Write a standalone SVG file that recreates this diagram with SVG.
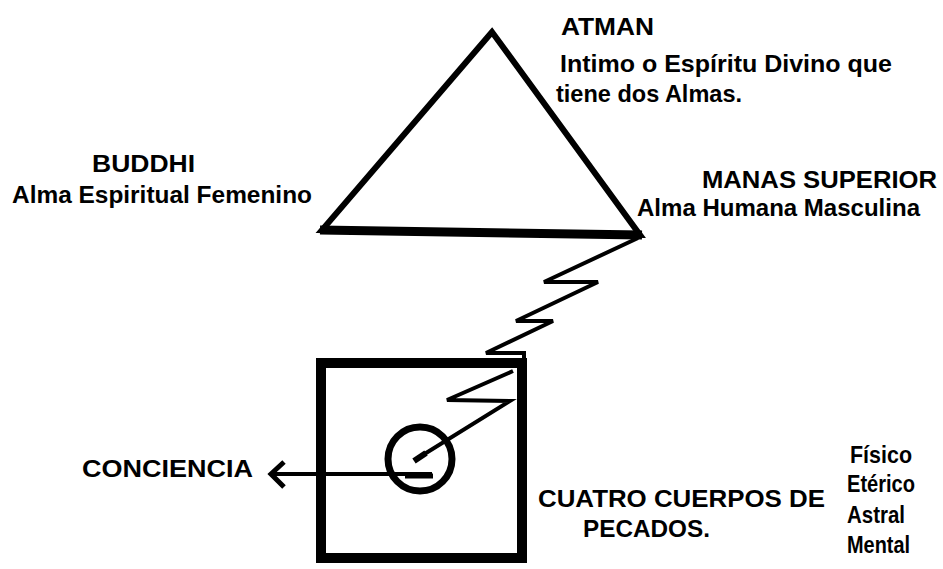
<svg xmlns="http://www.w3.org/2000/svg" width="943" height="569" viewBox="0 0 943 569">
<style>
.t{font-family:"Liberation Sans",Arial,sans-serif;font-weight:bold;font-size:24px;fill:#000}
.ln{fill:none;stroke:#000;stroke-linejoin:miter;stroke-linecap:butt}
</style>
<rect width="943" height="569" fill="#fff"/>
<g id="atman-triangle">
<polygon class="ln" points="492,32 322,230 640,235" stroke-width="6"/>
<line class="ln" x1="320" y1="230" x2="642" y2="235" stroke-width="9"/>
</g>
<g id="cuerpos-box">
<rect class="ln" x="321" y="363" width="201" height="195" stroke-width="10"/>
</g>
<g id="conciencia-circle">
<circle class="ln" cx="420" cy="459" r="32" stroke-width="7"/>
<line class="ln" x1="414" y1="461" x2="426" y2="453" stroke-width="6"/>
</g>
<g id="connectors">
<polyline class="ln" points="638,238 544,282 598,282 516,321 553,321 486,353 524,353 524,362" stroke-width="4"/>
<polyline class="ln" points="513,371 447,400 510,401 418,458" stroke-width="4"/>
<line class="ln" x1="272" y1="474" x2="432" y2="474" stroke-width="4"/>
<line class="ln" x1="405" y1="476" x2="433" y2="476" stroke-width="5"/>
<polyline class="ln" points="284,462 271,474 284,487" stroke-width="5"/>
</g>
<g id="labels">
<text class="t" x="561" y="35" textLength="93" lengthAdjust="spacingAndGlyphs">ATMAN</text>
<text class="t" x="560" y="72" textLength="332" lengthAdjust="spacingAndGlyphs">Intimo o Espíritu Divino que</text>
<text class="t" x="556" y="102" textLength="186" lengthAdjust="spacingAndGlyphs">tiene dos Almas.</text>
<text class="t" x="92" y="172" textLength="103" lengthAdjust="spacingAndGlyphs">BUDDHI</text>
<text class="t" x="12" y="203" textLength="300" lengthAdjust="spacingAndGlyphs">Alma Espiritual Femenino</text>
<text class="t" x="702" y="188" textLength="235" lengthAdjust="spacingAndGlyphs">MANAS SUPERIOR</text>
<text class="t" x="637" y="216" textLength="283" lengthAdjust="spacingAndGlyphs">Alma Humana Masculina</text>
<text class="t" x="82" y="477" textLength="171" lengthAdjust="spacingAndGlyphs">CONCIENCIA</text>
<text class="t" x="538" y="507" textLength="287" lengthAdjust="spacingAndGlyphs">CUATRO CUERPOS DE</text>
<text class="t" x="583" y="537" textLength="127" lengthAdjust="spacingAndGlyphs">PECADOS.</text>
<text class="t" x="850" y="463" textLength="62" lengthAdjust="spacingAndGlyphs">Físico</text>
<text class="t" x="847" y="492" textLength="68" lengthAdjust="spacingAndGlyphs">Etérico</text>
<text class="t" x="847" y="523" textLength="58" lengthAdjust="spacingAndGlyphs">Astral</text>
<text class="t" x="847" y="553" textLength="63" lengthAdjust="spacingAndGlyphs">Mental</text>
</g>
</svg>
